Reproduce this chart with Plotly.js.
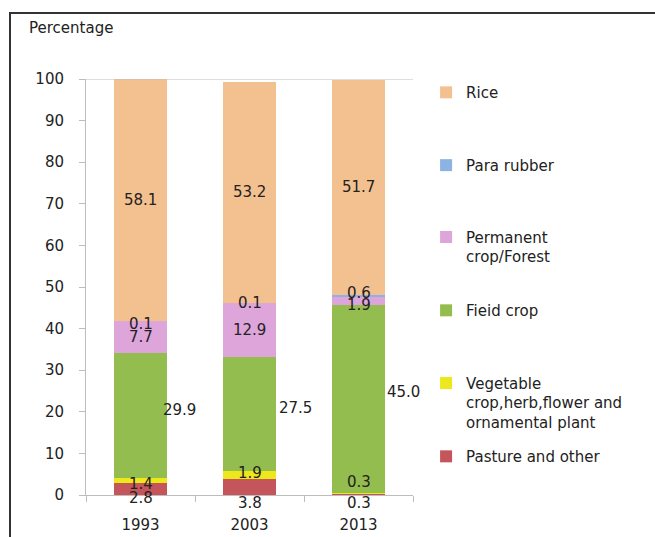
<!DOCTYPE html>
<html>
<head>
<meta charset="utf-8">
<script src="https://cdn.plot.ly/plotly-3.0.1.min.js"></script>
<style>
  html, body { margin: 0; padding: 0; background: #fff; }
  #wrap { position: relative; width: 655px; height: 537px; overflow: hidden; }
  #frame { position: absolute; left: 9px; top: 12px; width: 700px; height: 600px;
           border-left: 2px solid #333; border-top: 2px solid #333; pointer-events: none; z-index: 5; }
  #chart { position: absolute; left: 0; top: 0; width: 655px; height: 537px; }
</style>
</head>
<body>
<div id="wrap">
  <div id="chart"></div>
  <div id="frame"></div>
</div>
<script>
// ---- data ----
const years = ["1993", "2003", "2013"];
const pasture    = [2.8, 3.8, 0.3];
const vegetable  = [1.4, 1.9, 0.3];
const fieldCrop  = [29.9, 27.5, 45.0];
const permanent  = [7.7, 12.9, 1.9];
const paraRubber = [0.1, 0.1, 0.6];
const rice       = [58.1, 53.2, 51.7];
const seriesNames = ["Pasture and other",
  "Vegetable<br>crop,herb,flower and<br>ornamental plant",
  "Fieid crop", "Permanent<br>crop/Forest", "Para rubber", "Rice"];
const yTicks = [0, 10, 20, 30, 40, 50, 60, 70, 80, 90, 100];

// ---- styling ----
const series = [pasture, vegetable, fieldCrop, permanent, paraRubber, rice];
const colors = ["#C4555A", "#EDE81C", "#94BD4F", "#DDA5DA", "#8DB3E2", "#F3C08F"];
const legendY = [0.132, 0.308, 0.483, 0.659, 0.832, 1.007];
// label offsets in pixels [xshift, yshift] per series per year
const labelShift = [
  [[0, -9], [0, -16], [0, -9]],
  [[0, -4], [0, 2], [0, 11]],
  [[39, 5], [46, 6], [45, 7]],
  [[0, 0], [0, 0], [0, -4]],
  [[0, -3], [0, 0], [0, 3]],
  [[0, 0], [0, 0], [0, 0]]
];
const font = "DejaVu Sans, Noto Sans, sans-serif";
const txt = "#222";

const traces = [];
const annotations = [];
const cum = [0, 0, 0];
const layoutLegends = {};
series.forEach((vals, s) => {
  const lname = s === 0 ? "legend" : "legend" + (s + 1);
  traces.push({
    type: "bar", x: years, y: vals, name: seriesNames[s],
    marker: { color: colors[s], line: { width: 0 } },
    legend: lname, hoverinfo: "skip", showlegend: true
  });
  layoutLegends[lname] = {
    x: 1.04, xanchor: "left", y: legendY[s], yanchor: "top",
    font: { family: font, size: 15, color: txt },
    bgcolor: "rgba(0,0,0,0)", valign: "top"
  };
  vals.forEach((v, i) => {
    annotations.push({
      x: i, y: cum[i] + v / 2, xref: "x", yref: "y",
      text: v.toFixed(1), showarrow: false,
      xshift: labelShift[s][i][0], yshift: labelShift[s][i][1],
      font: { family: font, size: 15, color: txt }
    });
    cum[i] += v;
  });
});

annotations.push({
  xref: "paper", yref: "paper", x: -0.18, y: 1.1226, xanchor: "left", yanchor: "middle",
  text: "Percentage", showarrow: false, font: { family: font, size: 15, color: txt }
});

const layout = Object.assign({
  width: 655, height: 537,
  margin: { l: 86, r: 242, t: 79, b: 42 },
  paper_bgcolor: "#fff", plot_bgcolor: "#fff",
  showlegend: true,
  barmode: "stack", bargap: 0.515,
  font: { family: font, size: 15, color: txt },
  xaxis: {
    type: "category", range: [-0.5, years.length - 0.5], autorange: false,
    tickson: "boundaries", ticks: "outside", ticklen: 6,
    tickcolor: "#BDBDBD", showline: true, linecolor: "#BDBDBD", linewidth: 1,
    showgrid: false, ticklabelstandoff: 16,
    tickfont: { family: font, size: 15, color: txt }
  },
  yaxis: {
    range: [0, 100], autorange: false, tickvals: yTicks, ticks: "outside", ticklen: 6,
    tickcolor: "#BDBDBD", showline: true, linecolor: "#BDBDBD", linewidth: 1,
    showgrid: false, zeroline: false, ticklabelstandoff: 12,
    tickfont: { family: font, size: 15, color: txt }
  },
  shapes: [{
    type: "line", xref: "paper", yref: "y", x0: 0, x1: 1, y0: 100, y1: 100,
    line: { color: "#BDBDBD", width: 1 }
  }],
  annotations: annotations
}, layoutLegends);

Plotly.newPlot("chart", traces, layout, { displayModeBar: false, staticPlot: true });
</script>
</body>
</html>
